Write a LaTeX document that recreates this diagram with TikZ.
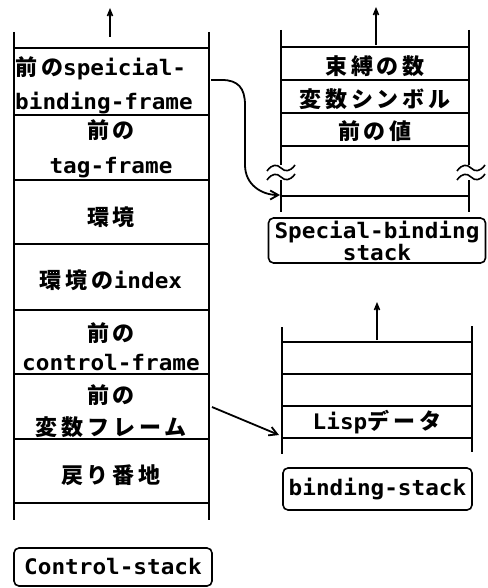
\documentclass[tikz,border=0pt]{standalone}
\usepackage{fontspec}
\usetikzlibrary{arrows.meta}
\newfontfamily\lat[FakeStretch=1.06]{DejaVu Sans Mono}
\newfontfamily\cjkf[LetterSpace=18]{Noto Sans CJK JP}
\newcommand\cj[1]{{\fontsize{22}{24}\selectfont\cjkf #1}}
\begin{document}
\begin{tikzpicture}[x=1pt,y=-1pt,
  stk/.style={line width=2pt},
  frm/.style={line width=1.6pt,rounded corners=5pt},
  lbl/.style={inner sep=0pt,font=\fontsize{21.4}{23}\selectfont\bfseries},
  con/.style={line width=1.8pt,-{Straight Barb[length=8pt,width=9pt]}},
  up/.style={line width=1.6pt,-{Straight Barb[length=6pt,width=5pt]}}]
\useasboundingbox (0,0) rectangle (487,588);
% ---- left: control stack ----
\draw[stk] (14,32) -- (14,520) (209,32) -- (209,520);
\foreach \y in {48,115,180,244,310,374,439,503} \draw[stk] (14,\y) -- (209,\y);
\coordinate (lt) at (110,37); \coordinate (ltt) at (110,8);
\draw[up] (lt) -- (ltt);
\node[lbl,anchor=west] (a1) at (15,68) {\cj{前の}{\lat speicial-}};
\node[lbl,anchor=west] (a2) at (15,103) {\lat binding-frame};
\node[lbl] (b1) at (111,130) {\cj{前の}};
\node[lbl] (b2) at (111,168) {\lat tag-frame};
\node[lbl] (c1) at (111,217) {\cj{環境}};
\node[lbl] (d1) at (111,280) {\cj{環境の}{\lat index}};
\node[lbl] (e1) at (111,333) {\cj{前の}};
\node[lbl] (e2) at (111,363) {\lat control-frame};
\node[lbl] (f1) at (111,395) {\cj{前の}};
\node[lbl] (f2) at (111,427) {\cj{変数フレーム}};
\node[lbl] (g1) at (111,475) {\cj{戻り番地}};
\node[frm,draw,lbl,minimum width=198pt,minimum height=38pt] (cs) at (113,567) {\lat Control-stack};
% ---- right top: special binding stack ----
\draw[stk] (281,30) -- (281,165) (281,180) -- (281,212);
\draw[stk] (469,30) -- (469,165) (469,180) -- (469,212);
\foreach \y in {47,80,113,146,196} \draw[stk] (281,\y) -- (469,\y);
\foreach \dx in {267,457} {
  \draw[line width=1.6pt] (\dx,171) .. controls (\dx+5,164) and (\dx+10,164) .. (\dx+14,168) .. controls (\dx+18,172) and (\dx+23,172) .. (\dx+28,165);
  \draw[line width=1.6pt] (\dx,180) .. controls (\dx+5,173) and (\dx+10,173) .. (\dx+14,177) .. controls (\dx+18,181) and (\dx+23,181) .. (\dx+28,174);
}
\coordinate (rt) at (376,45); \coordinate (rtt) at (376,7);
\draw[up] (rt) -- (rtt);
\node[lbl] (s1) at (375,66) {\cj{束縛の数}};
\node[lbl] (s2) at (375,99) {\cj{変数シンボル}};
\node[lbl] (s3) at (375,131) {\cj{前の値}};
\node[frm,draw,lbl,minimum width=217pt,minimum height=45pt] (sb) at (377,240.5) {};
\node[lbl] (sb1) at (377,232) {\lat Special-binding};
\node[lbl] (sb2) at (377,253) {\lat stack};
% ---- right bottom: binding stack ----
\draw[stk] (282,327) -- (282,454) (472,326) -- (472,452);
\foreach \y in {342,374,406,438} \draw[stk] (282,\y) -- (472,\y);
\coordinate (bt) at (377,340); \coordinate (btt) at (377,302);
\draw[up] (bt) -- (btt);
\node[lbl] (l1) at (377,422) {{\lat Lisp}\cj{データ}};
\node[frm,draw,lbl,minimum width=189pt,minimum height=42pt] (bs) at (377.5,489) {\lat binding-stack};
% ---- connectors ----
\coordinate (p1) at (211,80); \coordinate (p2) at (280,195);
\draw[con] (p1) -- (222,80) .. controls (238,80) and (245,88) .. (245,105) -- (245,165) .. controls (245,185) and (262,195) .. (p2);
\coordinate (q1) at (212,407); \coordinate (q2) at (279,435);
\draw[con] (q1) -- (q2);
\end{tikzpicture}
\end{document}
